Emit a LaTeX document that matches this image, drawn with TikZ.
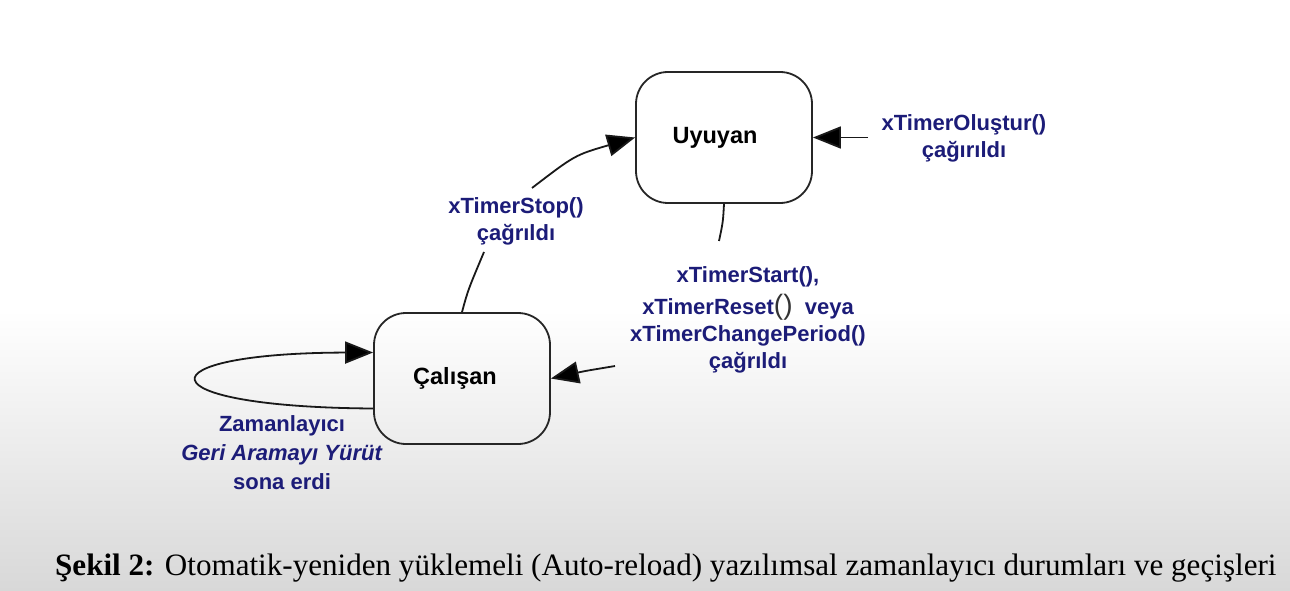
\documentclass[tikz,border=0pt]{standalone}
\usepackage{fontspec}
\setmainfont{Liberation Sans}
\newfontfamily\capfont{Liberation Serif}
\usetikzlibrary{arrows.meta}
\definecolor{lblue}{RGB}{28,28,120}
\definecolor{bgg}{RGB}{216,216,216}
\begin{document}
\begin{tikzpicture}[x=1pt,y=-1pt,
  state/.style={draw=black!85, line width=1.8pt, rounded corners=32pt, minimum width=176pt, minimum height=131pt, font=\fontsize{23.5}{26}\selectfont\bfseries, inner sep=0pt},
  lbl/.style={text=lblue, font=\fontsize{22}{27}\selectfont\bfseries, align=center, inner sep=0pt},
  conn/.style={line width=1.8pt, draw=black!90},
  arr/.style={conn, -{Triangle[length=28pt,width=22pt,fill=black]}}]
\useasboundingbox (0,0) rectangle (1290,591);
\fill[white] (0,0) rectangle (1290,591);
\shade[top color=white, bottom color=bgg] (0,310) rectangle (1290,591);

\node[state] (U) at (724,137.5) {Uyuyan\hspace*{18pt}};
\node[state] (C) at (462,378.5) {Çalışan\hspace*{14pt}};

\node[lbl] (lstop) at (516,221.5) {xTimerStop()\\çağrıldı};
\node[lbl] (lcreate) at (964,138) {xTimerOluştur()\\çağırıldı};
\node[lbl] (lstart) at (748,320) {xTimerStart(),\\[5pt]xTimerReset{\fontsize{28}{28}\selectfont\mdseries\color{black!80}()}\ \ veya\\xTimerChangePeriod()\\çağrıldı};
\node[lbl, font=\fontsize{22}{29}\selectfont\bfseries] (lloop) at (282,453) {Zamanlayıcı\\\textit{Geri Aramayı Yürüt}\\sona erdi};

\coordinate (s1) at (484,252);
\coordinate (s2) at (532,188);
\draw[conn] (C.north) .. controls (468,290) .. (s1);
\draw[arr] (s2) .. controls (575,155) .. (U.west);

\coordinate (t1) at (719,241);
\coordinate (t2) at (615,366);
\draw[conn] (U.south) .. controls (723,222) .. (t1);
\draw[arr] (t2) .. controls (585,371) .. (C.east);

\coordinate (c1) at (868,137.5);
\draw[arr] (c1) -- (U.east);

\draw[arr] ([yshift=-30pt]C.west) .. controls (140,407) and (140,353) .. ([yshift=26pt]C.west);

\node[font=\capfont\fontsize{31.1}{34}\selectfont, anchor=base west, inner sep=0pt] (cap) at (55,575) {\textbf{Şekil 2:} Otomatik-yeniden yüklemeli (Auto-reload) yazılımsal zamanlayıcı durumları ve geçişleri};
\end{tikzpicture}
\end{document}
